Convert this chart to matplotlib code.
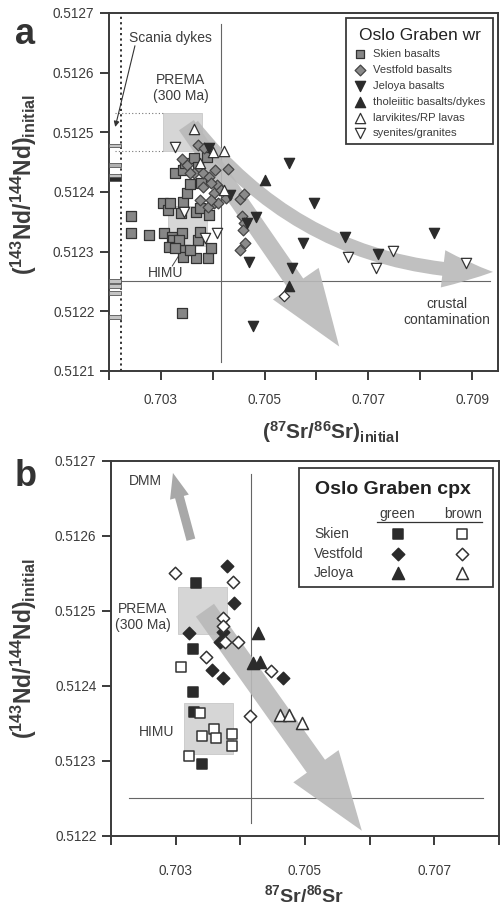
import matplotlib
matplotlib.use('Agg')
import matplotlib.pyplot as plt
from matplotlib.patches import Rectangle, FancyArrowPatch

plt.rcParams['font.family'] = ['Liberation Sans', 'DejaVu Sans']
plt.rcParams['mathtext.fontset'] = 'custom'
plt.rcParams['mathtext.rm'] = 'Liberation Sans'
plt.rcParams['mathtext.bf'] = 'Liberation Sans:bold'
plt.rcParams['mathtext.it'] = 'Liberation Sans:italic'

# ---------------- data: panel a (whole rock) ----------------
skien_x = [0.70243, 0.70243, 0.70278, 0.70305, 0.70314, 0.70338, 0.70343, 0.70367, 0.70376, 0.70392,
           0.70307, 0.70322, 0.70341, 0.70332, 0.70347, 0.70343, 0.70367, 0.70390, 0.70396, 0.70371,
           0.70340, 0.70324, 0.70334, 0.70316, 0.70328, 0.70357, 0.70376, 0.70328, 0.70343, 0.70347,
           0.70363, 0.70372, 0.70388, 0.70378, 0.70351, 0.70357, 0.70318]
skien_y = [0.512360, 0.512332, 0.512328, 0.512382, 0.512370, 0.512365, 0.512383, 0.512367, 0.512373, 0.512362,
           0.512332, 0.512325, 0.512332, 0.512311, 0.512303, 0.512291, 0.512290, 0.512290, 0.512306, 0.512320,
           0.512197, 0.512320, 0.512320, 0.512308, 0.512306, 0.512303, 0.512333, 0.512432, 0.512437, 0.512449,
           0.512457, 0.512442, 0.512459, 0.512415, 0.512398, 0.512414, 0.512382]
vest_x = [0.70372, 0.70384, 0.70341, 0.70351, 0.70363, 0.70382, 0.70392, 0.70405, 0.70409, 0.70382,
          0.70402, 0.70376, 0.70402, 0.70390, 0.70429, 0.70452, 0.70460, 0.70456, 0.70460, 0.70458,
          0.70462, 0.70452, 0.70411, 0.70396, 0.70425, 0.70415, 0.70357, 0.70396]
vest_y = [0.512479, 0.512474, 0.512455, 0.512445, 0.512432, 0.512432, 0.512425, 0.512437, 0.512412, 0.512409,
          0.512398, 0.512387, 0.512382, 0.512375, 0.512439, 0.512388, 0.512397, 0.512360, 0.512348, 0.512337,
          0.512315, 0.512303, 0.512382, 0.512387, 0.512390, 0.512404, 0.512432, 0.512415]
jel_x = [0.70392, 0.70433, 0.70483, 0.70467, 0.70547, 0.70595, 0.70574, 0.70655, 0.70719, 0.70826,
         0.70469, 0.70553, 0.70477]
jel_y = [0.512474, 0.512395, 0.512358, 0.512348, 0.512449, 0.512382, 0.512315, 0.512325, 0.512296, 0.512332,
         0.512283, 0.512273, 0.512176]
thol_x = [0.70500, 0.70547]
thol_y = [0.512420, 0.512243]
larv_x = [0.70363, 0.70400, 0.70421, 0.70376, 0.70421]
larv_y = [0.512506, 0.512467, 0.512469, 0.512449, 0.512404]
sye_x = [0.70328, 0.70345, 0.70386, 0.70409, 0.70661, 0.70714, 0.70748, 0.70888]
sye_y = [0.512476, 0.512367, 0.512323, 0.512332, 0.512291, 0.512273, 0.512301, 0.512281]
opendia_x = [0.70537]
opendia_y = [0.512226]
scania_y = [0.512478, 0.512445, 0.512427, 0.512422, 0.512251, 0.512243, 0.512231, 0.512191]
scania_col = ['#c4c4c4', '#b0b0b0', '#c4c4c4', '#2a2a2a', '#c4c4c4', '#c4c4c4', '#c4c4c4', '#c4c4c4']

# ---------------- data: panel b (cpx) ----------------
sk_g_x = [0.70331, 0.70327, 0.70327, 0.70328, 0.70341]
sk_g_y = [0.512537, 0.512449, 0.512392, 0.512365, 0.512296]
sk_b_x = [0.70308, 0.70338, 0.70341, 0.70359, 0.70362, 0.70387, 0.70387, 0.70321]
sk_b_y = [0.512425, 0.512364, 0.512333, 0.512343, 0.512331, 0.512336, 0.512320, 0.512307]
ve_g_x = [0.70379, 0.70390, 0.70321, 0.70373, 0.70368, 0.70356, 0.70373, 0.70466]
ve_g_y = [0.512560, 0.512511, 0.512471, 0.512472, 0.512459, 0.512421, 0.512410, 0.512411]
ve_b_x = [0.70299, 0.70389, 0.70373, 0.70373, 0.70376, 0.70396, 0.70347, 0.70447, 0.70415]
ve_b_y = [0.512551, 0.512539, 0.512491, 0.512480, 0.512459, 0.512459, 0.512439, 0.512420, 0.512360]
je_g_x = [0.70427, 0.70419, 0.70430]
je_g_y = [0.512471, 0.512431, 0.512432]
je_b_x = [0.70461, 0.70475, 0.70495]
je_b_y = [0.512361, 0.512361, 0.512351]

# reservoirs / reference lines
prema_box = (0.70304, 0.70379, 0.512469, 0.512532)
himu_box = (0.70313, 0.70389, 0.512309, 0.512377)
bse_sr = 0.70416
chur_nd = 0.51225
scania_sr = 0.70223

# ticks
xticks_a = [0.702, 0.703, 0.704, 0.705, 0.706, 0.707, 0.708, 0.709]
xlabels_a = ['', '0.703', '', '0.705', '', '0.707', '', '0.709']
yticks_a = [0.5121, 0.5122, 0.5123, 0.5124, 0.5125, 0.5126, 0.5127]
ylabels_a = ['0.5121', '0.5122', '0.5123', '0.5124', '0.5125', '0.5126', '0.5127']
xticks_b = [0.702, 0.703, 0.704, 0.705, 0.706, 0.707, 0.708]
xlabels_b = ['', '0.703', '', '0.705', '', '0.707', '']
yticks_b = [0.5122, 0.5123, 0.5124, 0.5125, 0.5126, 0.5127]
ylabels_b = ['0.5122', '0.5123', '0.5124', '0.5125', '0.5126', '0.5127']

DARK = '#2b2b2b'
SP = '#3a3a3a'
ARR = '#b9b9b9'
BOX = '#d6d6d6'
TXT = '#3c3c3c'

fig = plt.figure(figsize=(5, 9.21), dpi=100)
axA = fig.add_axes([0.218, 0.5972, 0.778, 0.3887])
axB = fig.add_axes([0.222, 0.0923, 0.776, 0.4072])


def style_axes(ax, xt, xl, yt, yl, xpad):
    ax.set_xticks(xt)
    ax.set_xticklabels(xl)
    ax.set_yticks(yt)
    ax.set_yticklabels(yl)
    for s in ax.spines.values():
        s.set_color(SP)
        s.set_linewidth(1.4)
    ax.tick_params(axis='both', direction='out', length=6.5, width=1.4, color=SP,
                   labelsize=9.8, labelcolor=TXT)
    ax.tick_params(axis='x', pad=xpad)
    ax.tick_params(axis='y', pad=4)


# ================= panel a =================
ax = axA
ax.set_xlim(0.702, 0.7095)
ax.set_ylim(0.5121, 0.5127)
style_axes(ax, xticks_a, xlabels_a, yticks_a, ylabels_a, 9)

ax.add_patch(Rectangle((prema_box[0], prema_box[2]), prema_box[1] - prema_box[0],
                       prema_box[3] - prema_box[2], facecolor=BOX, edgecolor='#c8c8c8', lw=0.6, zorder=1))
ax.add_patch(Rectangle((himu_box[0], himu_box[2]), himu_box[1] - himu_box[0],
                       himu_box[3] - himu_box[2], facecolor=BOX, edgecolor='#c8c8c8', lw=0.6, zorder=1))
ax.plot([0.70212, prema_box[0]], [prema_box[3], prema_box[3]], ls=(0, (1, 2)), color='#777', lw=0.8, zorder=1)
ax.plot([0.70212, prema_box[0]], [prema_box[2], prema_box[2]], ls=(0, (1, 2)), color='#777', lw=0.8, zorder=1)

ax.plot([bse_sr, bse_sr], [0.512115, 0.512682], color='#666', lw=0.8, zorder=1)
ax.plot([0.702, 0.70934], [chur_nd, chur_nd], color='#666', lw=0.8, zorder=1)
ax.axvline(scania_sr, color='#222', lw=1.3, ls=(0, (1.2, 1.8)), zorder=2)
ax.barh(scania_y, width=scania_sr - 0.702, left=0.702, height=0.0000065,
        color=scania_col, edgecolor='#555', lw=0.6, zorder=3)

# gray arrows
ax.add_patch(FancyArrowPatch((0.703609, 0.512512), (0.709403, 0.512266),
                             connectionstyle='arc3,rad=0.24',
                             arrowstyle='simple,head_length=36,head_width=27,tail_width=10',
                             mutation_scale=1, color=ARR, alpha=0.9, lw=0, shrinkA=0, shrinkB=0, zorder=2))
ax.add_patch(FancyArrowPatch((0.703492, 0.512512), (0.706438, 0.512141),
                             arrowstyle='simple,head_length=55,head_width=40,tail_width=13',
                             mutation_scale=1, color=ARR, alpha=0.9, lw=0, shrinkA=0, shrinkB=0, zorder=2))

ms = dict(zorder=5, linewidths=0.9)
ax.scatter(skien_x, skien_y, marker='s', s=42, facecolor='#868686', edgecolor='#333', **ms)
ax.scatter(vest_x, vest_y, marker='D', s=30, facecolor='#8a8a8a', edgecolor='#444', **ms)
ax.scatter(jel_x, jel_y, marker='v', s=55, facecolor=DARK, edgecolor=DARK, **ms)
ax.scatter(thol_x, thol_y, marker='^', s=55, facecolor=DARK, edgecolor=DARK, **ms)
ax.scatter(larv_x, larv_y, marker='^', s=55, facecolor='white', edgecolor='#333', **ms)
ax.scatter(sye_x, sye_y, marker='v', s=55, facecolor='white', edgecolor='#333', **ms)
ax.scatter(opendia_x, opendia_y, marker='D', s=28, facecolor='white', edgecolor='#333', **ms)

ax.text(0.70318, 0.512658, 'Scania dykes', ha='center', va='center', fontsize=10, color=TXT)
ax.annotate('', xy=(0.70212, 0.512509), xytext=(0.70250, 0.512645),
            arrowprops=dict(arrowstyle='-|>', color='#333', lw=0.8, mutation_scale=8,
                            shrinkA=0, shrinkB=0))
ax.text(0.70338, 0.512574, 'PREMA\n(300 Ma)', ha='center', va='center', fontsize=10,
        color=TXT, linespacing=1.2)
ax.text(0.70309, 0.512264, 'HIMU', ha='center', va='center', fontsize=10, color=TXT)
ax.plot([0.70322, 0.70343], [0.512276, 0.512305], color='#444', lw=0.7, zorder=4)
ax.text(0.70851, 0.512199, 'crustal\ncontamination', ha='center', va='center', fontsize=10,
        color=TXT, linespacing=1.15)

ax.set_xlabel(r'$\mathbf{(^{87}Sr/^{86}Sr)_{initial}}$', fontsize=15, color=TXT)
ax.xaxis.set_label_coords(0.57, -0.135)
ax.set_ylabel(r'$\mathbf{(^{143}Nd/^{144}Nd)_{initial}}$', fontsize=16.5, color=TXT)
ax.yaxis.set_label_coords(-0.18, 0.52)

# legend a (manual)
T = ax.transAxes
ax.add_patch(Rectangle((0.609, 0.634), 0.378, 0.352, transform=T, facecolor='white',
                       edgecolor=SP, lw=1.3, zorder=6))
ax.text(0.7995, 0.936, 'Oslo Graben wr', transform=T, ha='center', va='center',
        fontsize=12.5, color='#222', zorder=7)
leg_a = [('s', '#868686', '#333', 40, 'Skien basalts'),
         ('D', '#8a8a8a', '#444', 30, 'Vestfold basalts'),
         ('v', DARK, DARK, 55, 'Jeloya basalts'),
         ('^', DARK, DARK, 55, 'tholeiitic basalts/dykes'),
         ('^', 'white', '#333', 55, 'larvikites/RP lavas'),
         ('v', 'white', '#333', 55, 'syenites/granites')]
ys = [0.8855, 0.8408, 0.796, 0.7514, 0.7067, 0.6648]
for (mk, fc, ec, sz, lab), yy in zip(leg_a, ys):
    ax.scatter([0.6452], [yy], marker=mk, s=sz, facecolor=fc, edgecolor=ec, linewidths=0.9,
               transform=T, zorder=7, clip_on=False)
    ax.text(0.6787, yy, lab, transform=T, ha='left', va='center', fontsize=8.1, color=TXT, zorder=7)

fig.text(0.05, 0.963, 'a', fontsize=26, fontweight='bold', color='#333', ha='center', va='center')

# ================= panel b =================
ax = axB
ax.set_xlim(0.702, 0.708)
ax.set_ylim(0.5122, 0.5127)
style_axes(ax, xticks_b, xlabels_b, yticks_b, ylabels_b, 14)

ax.add_patch(Rectangle((prema_box[0], prema_box[2]), prema_box[1] - prema_box[0],
                       prema_box[3] - prema_box[2], facecolor=BOX, edgecolor='#c8c8c8', lw=0.6, zorder=1))
ax.add_patch(Rectangle((himu_box[0], himu_box[2]), himu_box[1] - himu_box[0],
                       himu_box[3] - himu_box[2], facecolor=BOX, edgecolor='#c8c8c8', lw=0.6, zorder=1))
ax.plot([bse_sr, bse_sr], [0.512217, 0.512682], color='#666', lw=0.8, zorder=1)
ax.plot([0.70228, 0.70775], [chur_nd, chur_nd], color='#666', lw=0.8, zorder=1)

ax.add_patch(FancyArrowPatch((0.703236, 0.512595), (0.702958, 0.512684),
                             arrowstyle='simple,head_length=18,head_width=14,tail_width=6.5',
                             mutation_scale=1, color='#a8a8a8', lw=0, shrinkA=0, shrinkB=0, zorder=2))
ax.add_patch(FancyArrowPatch((0.703453, 0.512501), (0.705879, 0.512207),
                             arrowstyle='simple,head_length=57,head_width=40,tail_width=16',
                             mutation_scale=1, color=ARR, alpha=0.9, lw=0, shrinkA=0, shrinkB=0, zorder=2))

mb = dict(zorder=5, linewidths=1.1)
ax.scatter(sk_g_x, sk_g_y, marker='s', s=55, facecolor=DARK, edgecolor=DARK, **mb)
ax.scatter(sk_b_x, sk_b_y, marker='s', s=55, facecolor='white', edgecolor='#333', **mb)
ax.scatter(ve_g_x, ve_g_y, marker='D', s=40, facecolor=DARK, edgecolor=DARK, **mb)
ax.scatter(ve_b_x, ve_b_y, marker='D', s=40, facecolor='white', edgecolor='#333', **mb)
ax.scatter(je_g_x, je_g_y, marker='^', s=75, facecolor=DARK, edgecolor=DARK, **mb)
ax.scatter(je_b_x, je_b_y, marker='^', s=75, facecolor='white', edgecolor='#333', **mb)

ax.text(0.70253, 0.512673, 'DMM', ha='center', va='center', fontsize=10, color=TXT)
ax.text(0.70249, 0.512492, 'PREMA\n(300 Ma)', ha='center', va='center', fontsize=10,
        color=TXT, linespacing=1.2)
ax.text(0.70271, 0.512339, 'HIMU', ha='center', va='center', fontsize=10, color=TXT)

ax.set_xlabel(r'$\mathbf{^{87}Sr/^{86}Sr}$', fontsize=14, color=TXT)
ax.xaxis.set_label_coords(0.497, -0.128)
ax.set_ylabel(r'$\mathbf{(^{143}Nd/^{144}Nd)_{initial}}$', fontsize=16.5, color=TXT)
ax.yaxis.set_label_coords(-0.185, 0.5)

T = ax.transAxes
ax.add_patch(Rectangle((0.4845, 0.664), 0.50, 0.3173, transform=T, facecolor='white',
                       edgecolor=SP, lw=1.3, zorder=6))
ax.text(0.7268, 0.9227, 'Oslo Graben cpx', transform=T, ha='center', va='center',
        fontsize=14, fontweight='bold', color='#222', zorder=7)
ax.text(0.737, 0.858, 'green', transform=T, ha='center', va='center', fontsize=10, color=TXT, zorder=7)
ax.text(0.907, 0.858, 'brown', transform=T, ha='center', va='center', fontsize=10, color=TXT, zorder=7)
ax.plot([0.6856, 0.956], [0.8373, 0.8373], transform=T, color='#333', lw=0.9, zorder=7)
rows = [('Skien', 's', 55, 0.8053), ('Vestfold', 'D', 40, 0.752), ('Jeloya', '^', 75, 0.7013)]
for lab, mk, sz, yy in rows:
    ax.text(0.523, yy, lab, transform=T, ha='left', va='center', fontsize=10, color=TXT, zorder=7)
    ax.scatter([0.7397], [yy], marker=mk, s=sz, facecolor=DARK, edgecolor=DARK, linewidths=1.1,
               transform=T, zorder=7, clip_on=False)
    ax.scatter([0.9046], [yy], marker=mk, s=sz, facecolor='white', edgecolor='#333', linewidths=1.1,
               transform=T, zorder=7, clip_on=False)

fig.text(0.052, 0.483, 'b', fontsize=26, fontweight='bold', color='#333', ha='center', va='center')

fig.savefig('out.png', dpi=100)
